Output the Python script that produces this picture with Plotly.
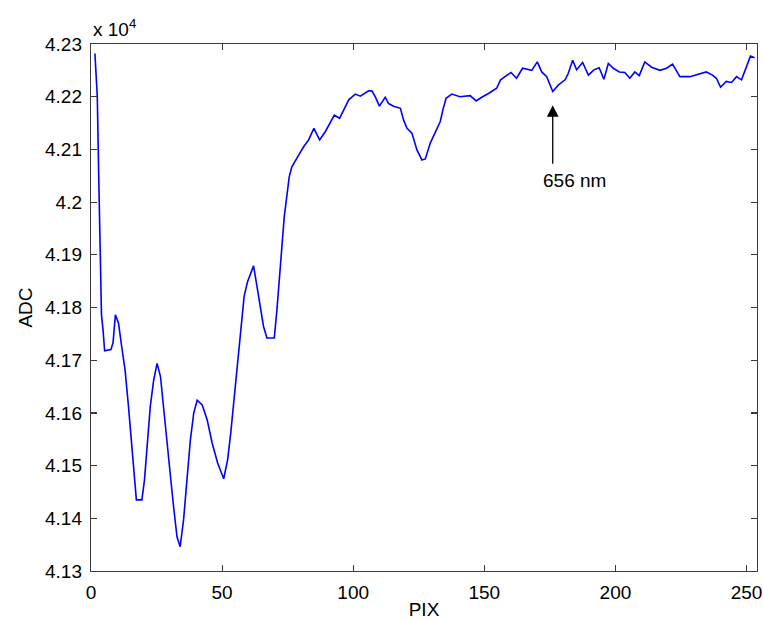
import plotly.graph_objects as go

# Pixel index (x) and ADC counts (y)
pix = [1.5, 2.4, 3.0, 3.6, 4.0, 4.6, 5.2, 7.6, 8.4, 9.3, 10.5, 11.7, 13.0, 14.3, 15.6,
       16.8, 17.3, 19.4, 20.4, 21.4, 22.6, 23.9, 25.2, 26.5, 27.7, 29.0, 30.2, 31.5,
       32.8, 34.0, 35.3, 36.6, 37.9, 39.2, 40.5, 42.4, 44.3, 46.2, 48.3, 50.6, 52.1,
       53.3, 54.6, 55.9, 57.2, 58.4, 59.7, 62.0, 63.3, 64.6, 65.8, 67.1, 69.9, 70.9,
       71.9, 72.8, 73.7, 74.7, 75.6, 76.6, 77.9, 79.2, 81.1, 83.0, 85.0, 87.2, 89.4,
       90.6, 92.8, 94.8, 96.3, 98.3, 100.8, 102.7, 105.9, 107.1, 108.4, 110.0, 112.2,
       113.5, 115.4, 118.0, 119.2, 120.5, 122.4, 124.3, 126.2, 127.5, 129.4, 131.3,
       133.2, 134.2, 135.4, 137.6, 140.7, 144.6, 146.9, 149.0, 151.6, 154.7, 156.2,
       157.9, 160.2, 162.3, 164.6, 168.1, 170.2, 171.9, 173.8, 176.1, 178.2, 180.8,
       182.0, 183.7, 185.2, 187.5, 189.7, 191.8, 193.8, 195.6, 197.3, 199.2, 201.5,
       203.6, 205.5, 207.4, 209.1, 211.2, 213.8, 217.0, 219.5, 221.8, 224.6, 228.4,
       232.2, 234.7, 237.0, 238.5, 240.1, 242.3, 244.3, 246.2, 248.1, 250.0, 251.5,
       253.1]
adc = [42282, 42200, 42036, 41877, 41786, 41757, 41718, 41720, 41733, 41786, 41770,
       41726, 41681, 41612, 41530, 41454, 41435, 41435, 41473, 41536, 41612, 41662,
       41694, 41669, 41612, 41555, 41485, 41422, 41365, 41346, 41397, 41473, 41549,
       41600, 41624, 41615, 41587, 41543, 41505, 41475, 41511, 41562, 41631, 41694,
       41771, 41821, 41849, 41879, 41840, 41802, 41764, 41742, 41742, 41795, 41850,
       41915, 41972, 42010, 42048, 42067, 42077, 42089, 42105, 42118, 42140, 42118,
       42134, 42146, 42165, 42159, 42175, 42194, 42205, 42201, 42211, 42211, 42200,
       42182, 42199, 42187, 42182, 42178, 42156, 42140, 42131, 42099, 42080, 42082,
       42112, 42131, 42153, 42175, 42197, 42205, 42200, 42202, 42192, 42199, 42206,
       42216, 42232, 42238, 42246, 42235, 42254, 42250, 42266, 42247, 42238, 42210,
       42222, 42232, 42244, 42269, 42251, 42265, 42241, 42251, 42255, 42233, 42263,
       42254, 42247, 42246, 42235, 42247, 42240, 42266, 42256, 42250, 42254, 42262,
       42238, 42238, 42244, 42247, 42241, 42235, 42218, 42229, 42227, 42238, 42232,
       42258, 42277, 42274]

x_ticks = [0, 50, 100, 150, 200, 250]
y_ticks = [41300, 41400, 41500, 41600, 41700, 41800, 41900, 42000, 42100, 42200, 42300]
y_ticktext = [f"{v / 1e4:g}" for v in y_ticks]

arrow_x = 176.1
arrow_tip = 42184
arrow_tail = 42070
label_text = "656 nm"
label_y = 42041

FONT = "Liberation Sans, Arial, sans-serif"
FS = 19
AXC = "#3a3a3a"

fig = go.Figure()
fig.add_trace(go.Scatter(x=pix, y=adc, mode="lines",
                         line=dict(color="#0000ff", width=1.6), hoverinfo="skip"))

fig.add_annotation(x=arrow_x, y=arrow_tip, ax=arrow_x, ay=arrow_tail,
                   xref="x", yref="y", axref="x", ayref="y", text="",
                   showarrow=True, arrowhead=2, arrowsize=1.8, arrowwidth=1.3,
                   arrowcolor="black", standoff=0)
fig.add_annotation(x=arrow_x - 4.5, y=label_y, xref="x", yref="y", text=label_text,
                   showarrow=False, xanchor="left", yanchor="middle",
                   font=dict(family=FONT, size=FS, color="black"))
fig.add_annotation(x=0, y=1, xref="paper", yref="paper", text="x 10<sup>4</sup>",
                   showarrow=False, xanchor="left", yanchor="bottom", yshift=2,
                   font=dict(family=FONT, size=FS, color="black"))

axis_common = dict(showgrid=False, zeroline=False, showline=True, linecolor=AXC,
                   linewidth=1.2, mirror="allticks", ticks="inside", ticklen=6,
                   tickcolor=AXC, tickwidth=1.2,
                   tickfont=dict(family=FONT, size=FS, color="black"))

fig.update_xaxes(range=[0, 254], tickvals=x_ticks, ticklabelstandoff=4,
                 title=dict(text="PIX", font=dict(family=FONT, size=FS, color="black"),
                            standoff=1),
                 **axis_common)
fig.update_yaxes(range=[41300, 42300], tickvals=y_ticks, ticktext=y_ticktext,
                 ticklabelstandoff=4,
                 title=dict(text="ADC", font=dict(family=FONT, size=FS, color="black"),
                            standoff=7),
                 **axis_common)

fig.update_layout(width=763, height=620, plot_bgcolor="white", paper_bgcolor="white",
                  showlegend=False, margin=dict(l=91, r=6, t=44, b=49, autoexpand=False))

fig.write_html("out.html", config={"displayModeBar": False, "staticPlot": True},
               post_script="document.body.style.margin='0';document.body.style.overflow='hidden';")
